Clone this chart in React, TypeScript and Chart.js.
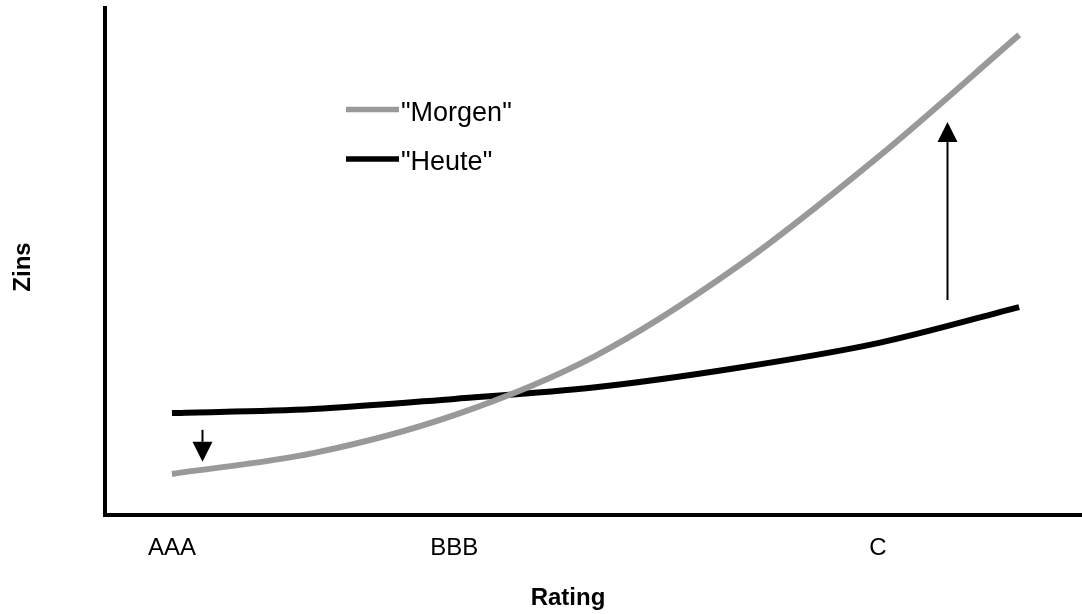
import { useEffect, useRef } from "react";
import { Chart, registerables } from "chart.js";

Chart.register(...registerables);

// Rating categories along the x axis (only some carry a label)
const ratingCategories = ["AAA", "", "BBB", "", "", "C", ""];
const categoryPositions = [0, 1, 2, 3, 4, 5, 6];

// Series values (Zins, arbitrary units)
const morgenValues = [8.1, 12.2, 19.7, 31.4, 48.9, 70.6, 94.7];
const heuteValues = [20.1, 20.9, 22.9, 25.2, 29.0, 33.9, 41.0];

const seriesNames = ['"Morgen"', '"Heute"'];

// Arrows showing the shift (category position, start value, tip value)
const arrowPosition = [0.21, 5.49];
const arrowFrom = [16.8, 42.4];
const arrowTo = [10.5, 77.5];

const FONT = '"Liberation Sans", Arial, Helvetica, sans-serif';

export default function App() {
  const ref = useRef<HTMLCanvasElement | null>(null);

  useEffect(() => {
    document.body.style.margin = "0";
    const canvas = ref.current;
    if (!canvas) return;

    const overlay = {
      id: "overlay",
      afterDraw(chart: any) {
        const ctx = chart.ctx;
        const xs = chart.scales.x;
        const ys = chart.scales.y;
        ctx.save();

        // arrows
        ctx.fillStyle = "#000";
        ctx.strokeStyle = "#000";
        for (let i = 0; i < arrowPosition.length; i++) {
          const px = Math.round(xs.getPixelForValue(arrowPosition[i])) + 0.5;
          const y0 = ys.getPixelForValue(arrowFrom[i]);
          const y1 = ys.getPixelForValue(arrowTo[i]);
          const dir = y1 > y0 ? 1 : -1;
          const headLen = 20;
          const half = 10;
          ctx.lineWidth = 2;
          ctx.beginPath();
          ctx.moveTo(px, y0);
          ctx.lineTo(px, y1 - dir * headLen);
          ctx.stroke();
          ctx.beginPath();
          ctx.moveTo(px, y1);
          ctx.lineTo(px - half, y1 - dir * headLen);
          ctx.lineTo(px + half, y1 - dir * headLen);
          ctx.closePath();
          ctx.fill();
        }

        // legend
        const legendY = [109.5, 159];
        chart.data.datasets.forEach((ds: any, i: number) => {
          ctx.strokeStyle = ds.borderColor;
          ctx.lineWidth = 5.5;
          ctx.beginPath();
          ctx.moveTo(346, legendY[i]);
          ctx.lineTo(399, legendY[i]);
          ctx.stroke();
          ctx.fillStyle = "#000";
          ctx.font = `27px ${FONT}`;
          ctx.textAlign = "left";
          ctx.textBaseline = "alphabetic";
          ctx.fillText(ds.label, 401, legendY[i] + 11);
        });

        // axis titles
        ctx.fillStyle = "#000";
        ctx.font = `bold 24px ${FONT}`;
        ctx.textAlign = "center";
        ctx.textBaseline = "middle";
        ctx.fillText("Rating", 568, 598);
        ctx.save();
        ctx.translate(23, 267);
        ctx.rotate(-Math.PI / 2);
        ctx.fillText("Zins", 0, 0);
        ctx.restore();

        ctx.restore();
      },
    };

    const chart = new Chart(canvas, {
      type: "line",
      data: {
        datasets: [
          {
            label: seriesNames[0],
            data: categoryPositions.map((c, i) => ({ x: c, y: morgenValues[i] })),
            borderColor: "#999999",
            borderWidth: 6,
            pointRadius: 0,
            tension: 0.33,
            fill: false,
          },
          {
            label: seriesNames[1],
            data: categoryPositions.map((c, i) => ({ x: c, y: heuteValues[i] })),
            borderColor: "#000000",
            borderWidth: 6,
            pointRadius: 0,
            tension: 0.33,
            fill: false,
          },
        ],
      },
      options: {
        responsive: false,
        animation: false,
        devicePixelRatio: 1,
        layout: { padding: { top: 8, right: 0, left: 0, bottom: 0 } },
        plugins: {
          legend: { display: false },
          tooltip: { enabled: false },
          title: { display: false },
        },
        scales: {
          x: {
            type: "linear",
            min: -0.474,
            max: 6.445,
            grid: { display: false, drawTicks: false },
            border: { display: true, color: "#000", width: 4 },
            afterFit: (s: any) => {
              s.height = 99;
            },
            afterBuildTicks: (s: any) => {
              s.ticks = categoryPositions
                .filter((c) => ratingCategories[c] !== "")
                .map((c) => ({ value: c }));
            },
            ticks: {
              padding: 19,
              color: "#000",
              font: { family: FONT, size: 24 },
              maxRotation: 0,
              autoSkip: false,
              callback: (v: any) => ratingCategories[Number(v)] ?? "",
            },
          },
          y: {
            type: "linear",
            min: 0,
            max: 100,
            grid: { display: false, drawTicks: false },
            border: { display: true, color: "#000", width: 4 },
            ticks: { display: false },
            afterFit: (s: any) => {
              s.width = 105;
            },
          },
        },
      },
      plugins: [overlay],
    } as any);

    return () => chart.destroy();
  }, []);

  return (
    <div style={{ width: 1082, height: 614 }}>
      <canvas ref={ref} width={1082} height={614} />
    </div>
  );
}
